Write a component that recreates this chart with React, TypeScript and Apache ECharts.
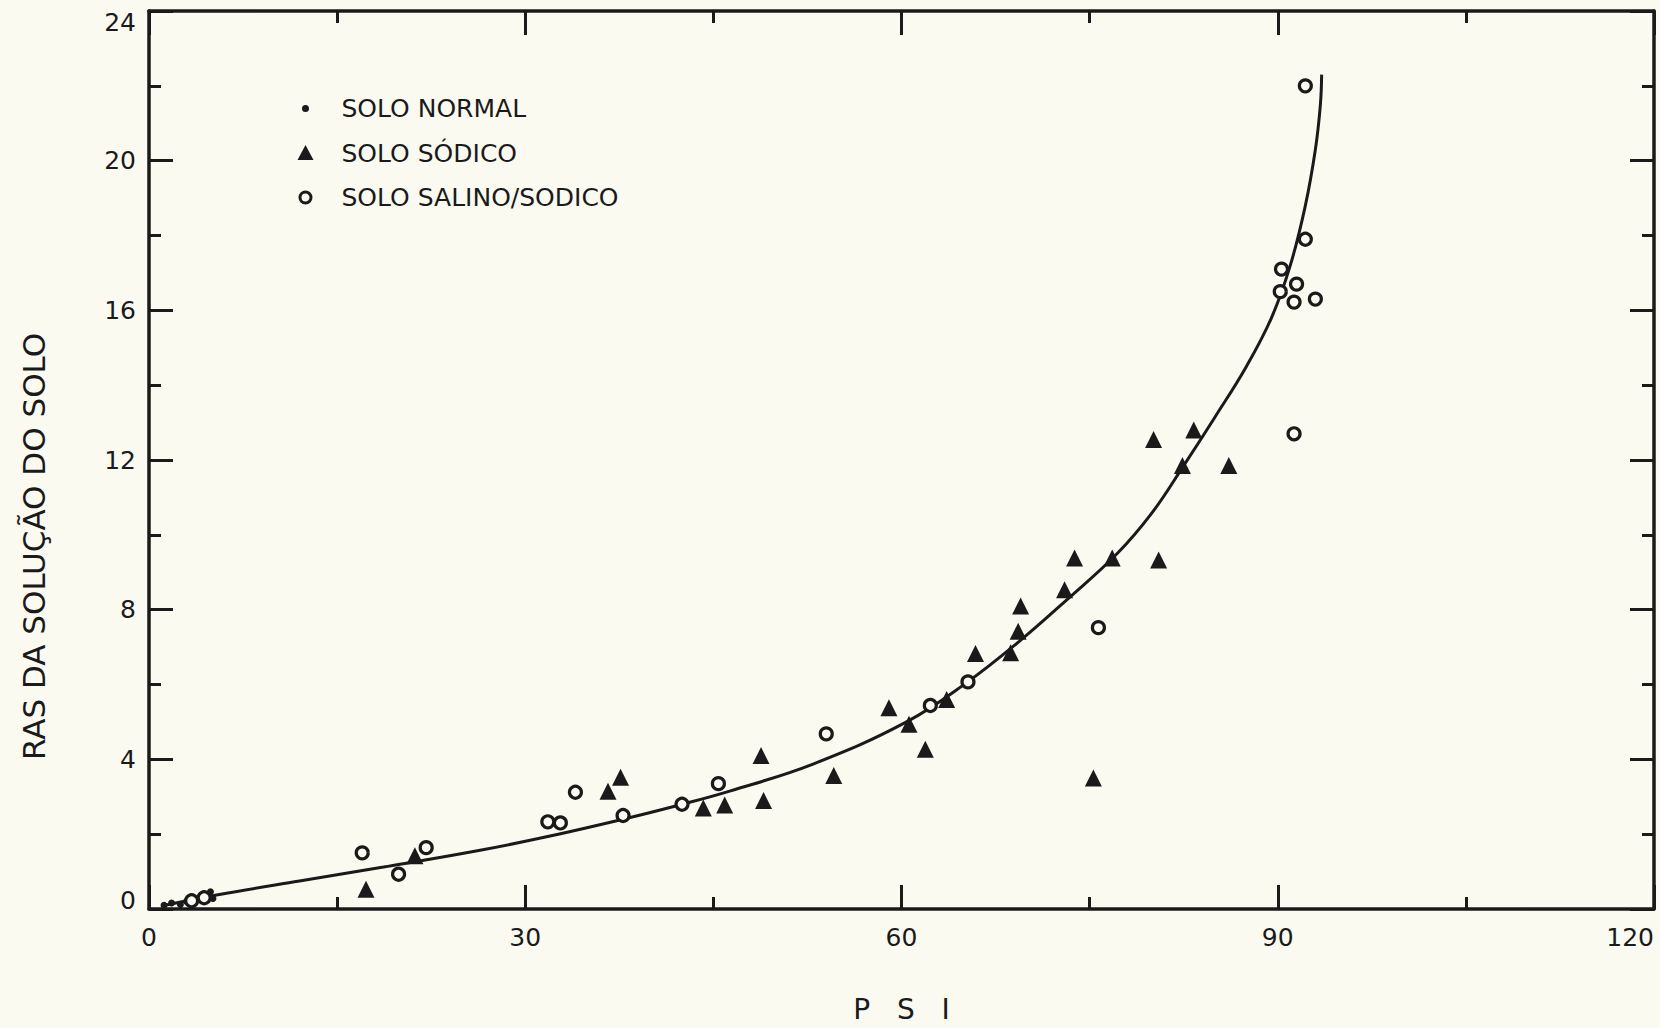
import { useEffect, useRef } from "react";
import * as echarts from "echarts";

const INK = "#1a1a1a";
const PAPER = "#fbfaf1";
const FONT = "DejaVu Sans";

// axis ticks (labelled values)
const xTickLabels = [0, 30, 60, 90, 120];
const yTickLabels = [0, 4, 8, 12, 16, 20, 24];

const seriesNames = ["SOLO NORMAL", "SOLO SÓDICO", "SOLO SALINO/SODICO"];

// SOLO NORMAL (filled dots) [PSI, RAS]
const normalPoints = [
  [1.2, 0.1], [1.8, 0.16], [2.5, 0.12], [3.0, 0.2], [3.6, 0.22],
  [4.1, 0.3], [4.6, 0.36], [5.1, 0.28], [4.9, 0.46],
];

// SOLO SÓDICO (filled triangles)
const sodicoPoints = [
  [17.3, 0.53], [21.2, 1.42], [36.6, 3.15], [37.6, 3.52], [44.2, 2.7],
  [45.9, 2.78], [48.8, 4.1], [49.0, 2.9], [54.6, 3.57], [59.0, 5.38],
  [60.6, 4.94], [61.9, 4.27], [63.6, 5.6], [65.9, 6.83], [68.7, 6.85],
  [69.3, 7.42], [69.5, 8.1], [73.0, 8.53], [73.8, 9.38], [76.8, 9.38],
  [80.5, 9.33], [75.3, 3.5], [80.1, 12.55], [83.3, 12.8], [82.4, 11.85],
  [86.1, 11.85],
];

// SOLO SALINO/SODICO (open circles)
const salinoPoints = [
  [3.4, 0.22], [4.4, 0.3], [17.0, 1.5], [19.9, 0.93], [22.1, 1.64],
  [31.8, 2.33], [32.8, 2.3], [34.0, 3.12], [37.8, 2.5], [42.5, 2.8],
  [45.4, 3.35], [54.0, 4.68], [62.3, 5.44], [65.3, 6.07], [75.7, 7.52],
  [90.3, 17.1], [91.5, 16.7], [90.2, 16.5], [91.3, 16.22], [93.0, 16.3],
  [92.2, 17.9], [92.2, 22.0], [91.3, 12.7],
];

// fitted curve
const curvePoints = [
  [1.0, 0.08], [5.5, 0.38], [12.0, 0.75], [18.7, 1.12], [26.4, 1.57],
  [31.7, 1.93], [37.8, 2.4], [42.3, 2.78], [46.3, 3.15], [53.0, 3.88],
  [60.4, 5.0], [65.2, 6.05], [69.2, 7.1], [73.2, 8.27], [77.2, 9.5],
  [80.0, 10.6], [82.5, 11.85], [85.0, 13.15], [87.5, 14.5], [89.5, 15.8],
  [91.0, 17.2], [92.2, 18.8], [93.0, 20.3], [93.4, 21.5], [93.5, 22.3],
];

const legendIcons = [
  "path://M0,0M40,18M5.5,9a3.5,3.5 0 1,0 7,0a3.5,3.5 0 1,0 -7,0Z",
  "path://M0,0M40,18M9,1L17,16L1,16Z",
  "path://M0,0M40,18M3.5,9a5.5,5.5 0 1,0 11,0a5.5,5.5 0 1,0 -11,0Z",
];

export default function App() {
  const ref = useRef<HTMLDivElement>(null);

  useEffect(() => {
    if (!ref.current) return;
    const chart = echarts.init(ref.current, undefined, { renderer: "svg" });

    const xMin = xTickLabels[0];
    const xMax = xTickLabels[xTickLabels.length - 1];
    const xInt = xTickLabels[1] - xTickLabels[0];
    const yMin = yTickLabels[0];
    const yMax = yTickLabels[yTickLabels.length - 1];
    const yInt = yTickLabels[1] - yTickLabels[0];

    const lineStyle = { color: INK, width: 3.5 };
    const tick = { show: true, inside: true, length: 24, lineStyle: { color: INK, width: 3 } };
    const minor = { show: true, splitNumber: 2, length: 12, lineStyle: { color: INK, width: 3 } };
    const labelFont = { fontFamily: FONT, fontSize: 25, color: INK };

    const xBase = {
      type: "value",
      min: xMin,
      max: xMax,
      interval: xInt,
      axisLine: { show: true, onZero: false, lineStyle },
      axisTick: tick,
      minorTick: minor,
      splitLine: { show: false },
      minorSplitLine: { show: false },
    };
    const yBase = {
      type: "value",
      min: yMin,
      max: yMax,
      interval: yInt,
      axisLine: { show: true, onZero: false, lineStyle },
      axisTick: tick,
      minorTick: minor,
      splitLine: { show: false },
      minorSplitLine: { show: false },
    };

    chart.setOption({
      animation: false,
      backgroundColor: PAPER,
      grid: { left: 149, right: 6, top: 11, bottom: 116, containLabel: false },
      legend: {
        orient: "vertical",
        left: 290,
        top: 91,
        itemWidth: 40,
        itemHeight: 18,
        itemGap: 19.5,
        selectedMode: false,
        textStyle: { fontFamily: FONT, fontSize: 25, color: INK },
        data: [
          { name: seriesNames[0], icon: legendIcons[0], itemStyle: { color: INK, borderWidth: 0, opacity: 1 } },
          { name: seriesNames[1], icon: legendIcons[1], itemStyle: { color: INK, borderWidth: 0, opacity: 1 } },
          {
            name: seriesNames[2],
            icon: legendIcons[2],
            itemStyle: { color: PAPER, borderColor: INK, borderWidth: 3, opacity: 1 },
          },
        ],
      },
      xAxis: [
        {
          ...xBase,
          position: "bottom",
          axisLabel: { show: true, margin: 16, alignMaxLabel: "right", ...labelFont },
          name: "P   S   I",
          nameLocation: "middle",
          nameGap: 86,
          nameTextStyle: { fontFamily: FONT, fontSize: 28, color: INK },
        },
        { ...xBase, position: "top", axisLabel: { show: false } },
      ],
      yAxis: [
        {
          ...yBase,
          position: "left",
          axisLabel: {
            show: true,
            margin: 13,
            ...labelFont,
            formatter: (v: number) =>
              v === yMax ? `{top|${v}}` : v === yMin ? `{bot|${v}}` : `${v}`,
            rich: {
              top: { ...labelFont, padding: [22, 0, 0, 0] },
              bot: { ...labelFont, padding: [0, 0, 18, 0] },
            },
          },
          name: "RAS DA SOLUÇÃO DO SOLO",
          nameLocation: "middle",
          nameRotate: 90,
          nameGap: 100,
          nameTextStyle: { fontFamily: FONT, fontSize: 31, color: INK, padding: [0, 173, 0, 0] },
        },
        { ...yBase, position: "right", axisLabel: { show: false } },
      ],
      series: [
        {
          type: "line",
          name: "curva",
          data: curvePoints,
          smooth: 0.4,
          showSymbol: false,
          silent: true,
          lineStyle: { color: INK, width: 3 },
          z: 1,
        },
        {
          type: "scatter",
          name: seriesNames[0],
          data: normalPoints,
          symbol: "circle",
          symbolSize: 7,
          itemStyle: { color: INK, opacity: 1 },
          z: 3,
        },
        {
          type: "scatter",
          name: seriesNames[1],
          data: sodicoPoints,
          symbol: "triangle",
          symbolSize: 17,
          itemStyle: { color: INK, opacity: 1 },
          z: 3,
        },
        {
          type: "scatter",
          name: seriesNames[2],
          data: salinoPoints,
          symbol: "circle",
          symbolSize: 12,
          itemStyle: { color: PAPER, borderColor: INK, borderWidth: 3.2, opacity: 1 },
          z: 3,
        },
      ],
    });

    return () => chart.dispose();
  }, []);

  return (
    <div
      ref={ref}
      style={{ position: "fixed", left: 0, top: 0, width: 1660, height: 1028, background: PAPER }}
    />
  );
}
